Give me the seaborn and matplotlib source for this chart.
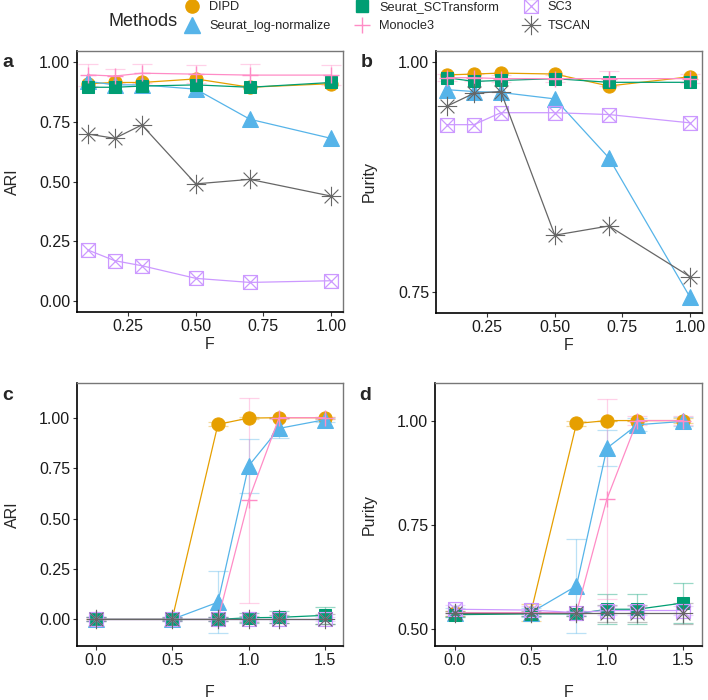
import matplotlib
matplotlib.use("Agg")
import matplotlib.pyplot as plt
import seaborn as sns
import numpy as np
import pandas as pd
from matplotlib.path import Path
from matplotlib.lines import Line2D

methods = ["DIPD", "Seurat_log-normalize", "Seurat_SCTransform", "Monocle3", "SC3", "TSCAN"]

# top row: F fraction, bottom row: F shift
f_top = [0.1, 0.2, 0.3, 0.5, 0.7, 1.0]
f_bot = [0.0, 0.5, 0.8, 1.0, 1.2, 1.5]

# panel a - ARI
ari_a = {
    "DIPD": [0.910, 0.915, 0.915, 0.930, 0.895, 0.910],
    "Seurat_log-normalize": [0.920, 0.905, 0.905, 0.887, 0.761, 0.681],
    "Seurat_SCTransform": [0.895, 0.895, 0.900, 0.905, 0.895, 0.915],
    "Monocle3": [0.947, 0.942, 0.954, 0.950, 0.946, 0.946],
    "SC3": [0.213, 0.168, 0.147, 0.094, 0.077, 0.084],
    "TSCAN": [0.699, 0.681, 0.737, 0.490, 0.509, 0.439],
}
ari_a_sd = {
    "Monocle3": [0.045, 0.030, 0.040, 0.038, 0.045, 0.042],
}

# panel b - Purity
pur_b = {
    "DIPD": [0.986, 0.987, 0.988, 0.987, 0.974, 0.984],
    "Seurat_log-normalize": [0.970, 0.968, 0.967, 0.960, 0.896, 0.745],
    "Seurat_SCTransform": [0.983, 0.979, 0.980, 0.982, 0.978, 0.978],
    "Monocle3": [0.983, 0.983, 0.982, 0.982, 0.982, 0.982],
    "SC3": [0.932, 0.932, 0.945, 0.945, 0.943, 0.934],
    "TSCAN": [0.952, 0.966, 0.968, 0.812, 0.822, 0.767],
}
pur_b_sd = {
    "Monocle3": [0.004, 0.004, 0.004, 0.004, 0.008, 0.005],
}

# panel c - ARI
ari_c = {
    "DIPD": [0.0, 0.0, 0.967, 0.998, 1.0, 1.0],
    "Seurat_log-normalize": [0.0, 0.0, 0.085, 0.760, 0.947, 0.990],
    "Seurat_SCTransform": [0.0, 0.0, 0.0, 0.008, 0.010, 0.020],
    "Monocle3": [0.0, 0.0, 0.0, 0.590, 1.0, 1.0],
    "SC3": [0.0, 0.0, 0.0, 0.0, 0.0, 0.0],
    "TSCAN": [0.0, 0.0, 0.0, 0.0, 0.0, 0.0],
}
ari_c_sd = {
    "DIPD": [0.0, 0.0, 0.010, 0.005, 0.0, 0.005],
    "Seurat_log-normalize": [0.010, 0.010, 0.155, 0.135, 0.050, 0.010],
    "Seurat_SCTransform": [0.010, 0.005, 0.010, 0.025, 0.030, 0.042],
    "Monocle3": [0.0, 0.0, 0.0, 0.510, 0.005, 0.005],
    "SC3": [0.010, 0.010, 0.010, 0.010, 0.010, 0.010],
    "TSCAN": [0.010, 0.010, 0.010, 0.015, 0.020, 0.025],
}

# panel d - Purity
pur_d = {
    "DIPD": [0.538, 0.540, 0.993, 1.0, 1.0, 1.0],
    "Seurat_log-normalize": [0.540, 0.540, 0.604, 0.934, 0.990, 0.998],
    "Seurat_SCTransform": [0.535, 0.537, 0.537, 0.548, 0.548, 0.563],
    "Monocle3": [0.540, 0.540, 0.540, 0.812, 1.0, 1.0],
    "SC3": [0.548, 0.546, 0.540, 0.545, 0.545, 0.545],
    "TSCAN": [0.538, 0.538, 0.538, 0.538, 0.538, 0.538],
}
pur_d_sd = {
    "DIPD": [0.005, 0.020, 0.005, 0.0, 0.0, 0.005],
    "Seurat_log-normalize": [0.010, 0.010, 0.112, 0.044, 0.015, 0.010],
    "Seurat_SCTransform": [0.005, 0.005, 0.005, 0.036, 0.036, 0.049],
    "Monocle3": [0.0, 0.0, 0.0, 0.240, 0.010, 0.010],
    "SC3": [0.010, 0.010, 0.005, 0.010, 0.010, 0.010],
    "TSCAN": [0.005, 0.005, 0.005, 0.020, 0.020, 0.025],
}

colors = {
    "DIPD": "#E69F00",
    "Seurat_log-normalize": "#56B4E9",
    "Seurat_SCTransform": "#009E73",
    "Monocle3": "#FF8CC6",
    "SC3": "#CC99FF",
    "TSCAN": "#666666",
}

# ggplot shapes 7 (boxed x) and 8 (asterisk)
box_x = Path(
    [(-1, -1), (1, -1), (1, 1), (-1, 1), (-1, -1), (-1, -1), (1, 1), (-1, 1), (1, -1)],
    [Path.MOVETO, Path.LINETO, Path.LINETO, Path.LINETO, Path.CLOSEPOLY,
     Path.MOVETO, Path.LINETO, Path.MOVETO, Path.LINETO],
)
asterisk = Path(
    [(-1, 0), (1, 0), (0, -1), (0, 1), (-0.71, -0.71), (0.71, 0.71), (-0.71, 0.71), (0.71, -0.71)],
    [Path.MOVETO, Path.LINETO] * 4,
)

marker_kw = {
    "DIPD": dict(marker="o", markersize=9.5, mfc=colors["DIPD"], mec=colors["DIPD"]),
    "Seurat_log-normalize": dict(marker="^", markersize=11, mfc=colors["Seurat_log-normalize"], mec=colors["Seurat_log-normalize"]),
    "Seurat_SCTransform": dict(marker="s", markersize=9, mfc=colors["Seurat_SCTransform"], mec=colors["Seurat_SCTransform"]),
    "Monocle3": dict(marker="+", markersize=12, mew=1.0, mec=colors["Monocle3"]),
    "SC3": dict(marker=box_x, markersize=10, mfc="none", mec=colors["SC3"], mew=0.9),
    "TSCAN": dict(marker=asterisk, markersize=14, mfc="none", mec=colors["TSCAN"], mew=0.8),
}

sns.set_style("ticks")
plt.rcParams["font.family"] = ["Liberation Sans", "DejaVu Sans"]

fig = plt.figure(figsize=(7.08, 7.0), dpi=100)
W, H = 708, 700


def px_axes(left, top, right, bottom):
    return fig.add_axes([left / W, 1 - bottom / H, (right - left) / W, (bottom - top) / H])


def draw_panel(ax, xs, vals, sds, ylabel, letter, xlim, ylim, xticks, xfmt, yticks, label_x, xlab_y):
    for m in methods:
        df = pd.DataFrame({"F": xs, "val": vals[m]})
        if m in sds:
            ax.errorbar(xs, vals[m], yerr=sds[m], fmt="none", ecolor=colors[m],
                        alpha=0.4, elinewidth=0.9, capsize=7, capthick=0.9, zorder=1)
        sns.lineplot(data=df, x="F", y="val", ax=ax, color=colors[m], linewidth=0.9,
                     legend=False, zorder=2, **marker_kw[m])
    ax.set_xlim(*xlim)
    ax.set_ylim(*ylim)
    ax.set_xticks(xticks)
    ax.set_xticklabels([xfmt.format(t) for t in xticks])
    ax.set_yticks(yticks)
    ax.set_yticklabels(["{:.2f}".format(t) for t in yticks])
    ax.set_xlabel("F", fontsize=11.5, va="center")
    ax.set_ylabel(ylabel, fontsize=11.5, va="center")
    ax.yaxis.set_label_coords(label_x, 0.5)
    ax.xaxis.set_label_coords(0.5, xlab_y)
    ax.tick_params(labelsize=11.5, length=3, width=0.8, color="#333333", labelcolor="#1a1a1a", pad=2)
    for s in ["left", "bottom"]:
        ax.spines[s].set_color("black")
        ax.spines[s].set_linewidth(1.2)
    for s in ["top", "right"]:
        ax.spines[s].set_visible(True)
        ax.spines[s].set_color("#777777")
        ax.spines[s].set_linewidth(1.0)
    ax.text(-75 / 266, 1.0 - 12 / 262, letter, transform=ax.transAxes, fontsize=14,
            fontweight="bold", ha="left", va="center")


ax_a = px_axes(77, 51, 343, 312)
ax_b = px_axes(436, 51, 702, 313)
ax_c = px_axes(77, 383, 343, 646)
ax_d = px_axes(435, 383, 702, 646)

draw_panel(ax_a, f_top, ari_a, ari_a_sd, "ARI", "a", (0.06, 1.045), (-0.047, 1.047),
           [0.25, 0.5, 0.75, 1.0], "{:.2f}", [0, 0.25, 0.5, 0.75, 1.0], -0.244, -0.123)
draw_panel(ax_b, f_top, pur_b, pur_b_sd, "Purity", "b", (0.06, 1.045), (0.7275, 1.012),
           [0.25, 0.5, 0.75, 1.0], "{:.2f}", [0.75, 1.0], -0.252, -0.123)
draw_panel(ax_c, f_bot, ari_c, ari_c_sd, "ARI", "c", (-0.122, 1.618), (-0.132, 1.172),
           [0, 0.5, 1.0, 1.5], "{:.1f}", [0, 0.25, 0.5, 0.75, 1.0], -0.244, -0.175)
draw_panel(ax_d, f_bot, pur_d, pur_d_sd, "Purity", "d", (-0.13, 1.625), (0.46, 1.09),
           [0, 0.5, 1.0, 1.5], "{:.1f}", [0.5, 0.75, 1.0], -0.247, -0.175)

# legend on top
handles = [Line2D([], [], linestyle="none", **marker_kw[m]) for m in methods]
fig.text(108 / W, 1 - 21 / H, "Methods", fontsize=13, ha="left", va="center")
fig.legend(handles, methods, loc="upper left", bbox_to_anchor=(186 / W, 1 - 1 / H), ncol=3,
           frameon=False, fontsize=9.2, handlelength=1.0, handletextpad=0.8,
           columnspacing=2.0, labelspacing=0.55, borderpad=0.0, borderaxespad=0.0)

fig.savefig("out.png", dpi=100)
